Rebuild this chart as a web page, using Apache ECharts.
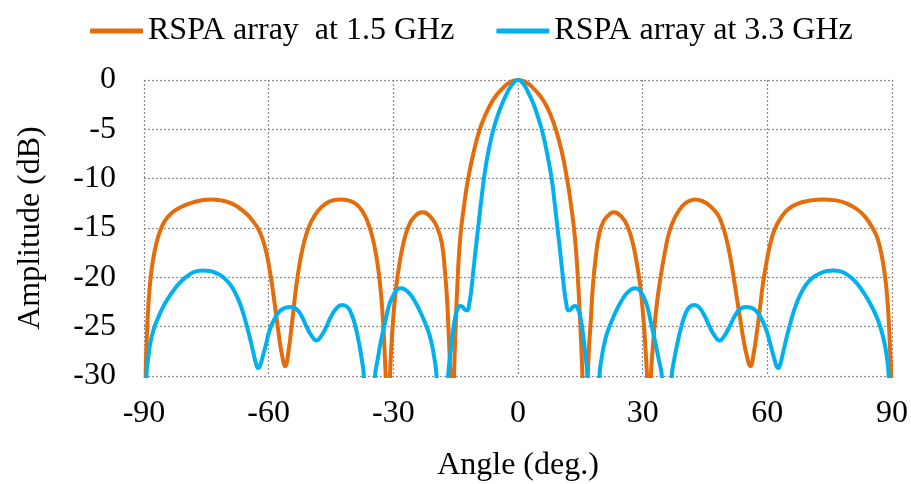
<!DOCTYPE html>
<html>
<head>
<meta charset="utf-8">
<script src="https://cdn.jsdelivr.net/npm/echarts@6/dist/echarts.min.js"></script>
<style>
  html, body { margin: 0; padding: 0; background: #fff; }
  #chart { width: 911px; height: 484px; }
</style>
</head>
<body>
<div id="chart"></div>
<script>
// Radiation pattern of the RSPA array, amplitude (dB) versus angle (deg.)
// Values below -30 dB mark the pattern nulls; the plot clips them at the axis floor.

// 1.5 GHz pattern (one line per lobe)
const angle15 = [
  -90, -89.6, -89.3, -88.9, -88.4, -87.8, -87.1, -86.2, -85.0, -83.4, -81.2, -78.6, -76.2, -73.8,
  -71.5, -69.0, -67.0, -65.2, -63.8, -62.5, -61.4, -60.5, -59.7, -59.0, -58.3, -57.6, -56.9, -56.0,
  -55.2, -54.6, -54.0, -53.4, -52.7, -51.9, -50.9, -49.7, -48.2, -46.5, -44.6, -42.7,
  -40.8, -38.9, -37.3, -36.0, -35.0, -34.2, -33.5, -32.9, -32.4, -32.0, -31.8, -31.4,
  -30.8, -30.4, -30.0, -29.4, -28.6, -27.6, -26.4, -25.0, -23.0, -21.0, -19.4, -18.3, -17.6, -17.1, -16.8, -16.5, -16.3, -15.9,
  -15.4, -15.0, -14.5, -13.9, -13.0, -12.0, -10.6, -9.2, -7.8, -6.4, -5.0, -3.6, -2.0, 0,
  2.0, 3.6, 5.0, 6.5, 7.8, 9.1, 10.5, 11.8, 12.8, 13.7, 14.4, 15.0, 15.5, 16.1,
  16.8, 17.1, 17.5, 18.0, 18.7, 19.6, 20.6, 21.8, 23.0, 25.0, 26.4, 27.6, 28.6, 29.4, 30.0, 30.5, 30.9, 31.1, 31.5,
  32.0, 32.4, 32.9, 33.5, 34.3, 35.2, 36.4, 37.8, 39.5, 41.0, 42.6, 44.5, 46.3, 48.0, 49.1, 50.2, 51.1, 51.9, 52.7, 53.5, 54.3, 55.1, 55.9,
  56.8, 57.5, 58.2, 58.9, 59.7, 60.6, 61.7, 63.2, 65.0, 67.2, 69.8, 73.4, 76.5, 79.3, 81.6, 83.4, 84.9, 86.2, 87.0, 87.7, 88.3, 88.8, 89.2, 89.55, 89.8, 90
];
const gain15 = [
  -45, -30, -26, -22.5, -20, -18.2, -16.7, -15.4, -14.3, -13.5, -12.9, -12.45, -12.2, -12.1,
  -12.2, -12.5, -13.0, -13.6, -14.3, -15.1, -16.2, -17.6, -19.4, -21.3, -23.5, -25.7, -27.6, -29.0,
  -27.4, -25.4, -23.2, -21.0, -19.0, -17.2, -15.6, -14.3, -13.3, -12.6, -12.2, -12.1,
  -12.2, -12.6, -13.4, -14.6, -16.0, -17.6, -19.6, -22.0, -25.0, -28.5, -30.5, -40,
  -30, -26.5, -24, -21.3, -18.8, -16.6, -14.9, -13.9, -13.4, -13.9, -15.0, -16.6, -19.3, -22, -24.6, -27.5, -30, -40,
  -30, -25, -20, -16, -12.8, -10, -7.2, -5, -3.5, -2.3, -1.45, -0.8, -0.25, 0,
  -0.25, -0.8, -1.45, -2.35, -3.5, -5, -7.2, -10, -12.8, -16, -20, -25, -30, -40,
  -30, -27, -24.5, -21, -18, -15.5, -14.3, -13.7, -13.4, -13.9, -14.9, -16.5, -18.6, -20.8, -23.3, -26, -28.8, -30.5, -40,
  -30, -27.3, -24.8, -22.4, -20, -17.8, -15.4, -13.9, -12.8, -12.3, -12.1, -12.3, -12.8, -13.6, -14.6, -16.2, -18.0, -20.0, -22.2, -24.3, -26.4, -28.0, -29.0,
  -27.5, -25.5, -23.2, -20.8, -18.7, -16.8, -15.2, -14.0, -13.1, -12.55, -12.25, -12.1, -12.2, -12.55, -13.1, -13.8, -14.7, -15.7, -16.8, -18.2, -19.8, -21.8, -24.2, -27.5, -30, -45
];

// 3.3 GHz pattern (one line per lobe)
const angle33 = [
  -90, -89.4, -89.0, -88.4, -87.6, -86.6, -85.4, -84.0, -82.5, -80.9, -79.2, -77.5, -75.8, -74.2, -72.5, -70.9, -69.3, -67.9, -66.7, -65.6, -64.6, -63.7, -63.0, -62.5,
  -62.1, -61.6, -60.7, -59.8, -58.7, -57.5, -56.1, -54.7, -53.4, -52.1, -50.9, -49.7, -48.5, -47.3, -46.1, -44.9, -43.6, -42.4, -41.2, -40.1, -39.1, -38.3, -37.6, -37.1, -35.8,
  -34.4, -33.8, -33.0, -32.0, -31.0, -30.1, -29.2, -28.3, -27.3, -26.0, -24.6, -23.3, -22.0, -21.0, -20.2, -19.6, -18.1,
  -16.8, -16.3, -15.7, -15.1, -14.5, -13.9, -13.3, -12.7, -12.2, -11.7, -11.3, -10.9, -10.3, -9.6, -8.9, -8.2, -7.5, -6.7, -5.9, -4.9, -3.8, -2.6, -1.3, 0,
  1.3, 2.5, 3.7, 4.7, 5.7, 6.5, 7.3, 8.1, 8.8, 9.5, 10.2, 10.8, 11.2, 11.6, 12.1, 12.6, 13.2, 13.8, 14.4, 15.0, 15.6, 16.2, 16.7, 18.1,
  19.6, 20.2, 21.0, 22.0, 23.3, 24.6, 26.0, 27.3, 28.3, 29.2, 30.1, 31.0, 32.0, 33.0, 33.9, 34.6, 35.8,
  37.0, 37.6, 38.4, 39.3, 40.3, 41.4, 42.5, 43.7, 44.9, 46.1, 47.3, 48.5, 49.7, 50.9, 52.2, 53.5, 54.9, 56.2, 57.5, 58.7, 59.8, 60.8, 61.7, 62.2, 62.6,
  63.1, 63.8, 64.7, 65.7, 66.8, 68.0, 69.4, 71.0, 72.7, 74.4, 75.9, 77.6, 79.3, 81.0, 82.6, 84.0, 85.3, 86.4, 87.3, 88.1, 88.7, 89.2, 90
];
const gain33 = [
  -45, -30, -28.2, -26.5, -25.2, -24.1, -23.0, -22.0, -21.1, -20.35, -19.75, -19.4, -19.3, -19.35, -19.6, -20.0, -20.7, -21.7, -22.9, -24.4, -26.0, -27.6, -28.8, -29.2,
  -29.0, -28.3, -26.9, -25.4, -24.3, -23.5, -23.1, -23.0, -23.2, -23.9, -25.0, -25.9, -26.4, -25.9, -25.0, -23.9, -23.1, -22.8, -22.95, -23.7, -25.0, -26.6, -28.3, -30, -45,
  -30, -28.4, -26.5, -24.6, -22.8, -21.9, -21.3, -21.1, -21.2, -21.7, -22.6, -23.7, -25.0, -26.3, -28.0, -30, -45,
  -30, -27.8, -25.6, -24.0, -23.2, -22.9, -23.0, -23.3, -23.35, -22.6, -21.5, -20.0, -17.6, -15, -12.4, -10, -8.1, -6.4, -5.0, -3.6, -2.4, -1.3, -0.4, 0,
  -0.4, -1.3, -2.4, -3.6, -5.0, -6.4, -8.1, -10, -12.4, -15, -17.6, -20, -21.5, -22.6, -23.35, -23.3, -23.0, -22.9, -23.2, -24.0, -25.6, -27.8, -30, -45,
  -30, -28.0, -26.3, -25.0, -23.7, -22.6, -21.7, -21.2, -21.1, -21.3, -21.9, -22.8, -24.6, -26.5, -28.4, -30, -45,
  -30, -28.3, -26.6, -25.0, -23.7, -22.95, -22.8, -23.1, -23.9, -25.0, -25.9, -26.4, -25.9, -25.0, -23.9, -23.2, -23.0, -23.1, -23.5, -24.3, -25.4, -26.9, -28.3, -29.0, -29.2,
  -28.8, -27.6, -26.0, -24.4, -22.9, -21.7, -20.7, -20.0, -19.6, -19.35, -19.3, -19.4, -19.75, -20.35, -21.2, -22.1, -23.1, -24.1, -25.2, -26.5, -27.9, -30, -45
];

const xTicks = [-90, -60, -30, 0, 30, 60, 90];
const yTicks = [0, -5, -10, -15, -20, -25, -30];
const seriesNames = ['RSPA array  at 1.5 GHz', 'RSPA array at 3.3 GHz'];

const pair = (xs, ys) => xs.map((x, i) => [x, ys[i]]);

const serif = 'Liberation Serif';
const gridDots = { color: '#8c8c8c', width: 1.2, type: [2, 2] };

const chart = echarts.init(document.getElementById('chart'), null, { renderer: 'canvas' });
chart.setOption({
  animation: false,
  backgroundColor: '#ffffff',
  legend: {
    top: 10,
    left: 85,
    itemWidth: 53,
    itemHeight: 5,
    itemGap: 42,
    icon: 'roundRect',
    textStyle: { fontFamily: serif, fontSize: 32, color: '#000' },
    data: seriesNames
  },
  grid: { left: 144, right: 19, top: 80, bottom: 108, outerBoundsMode: 'none' },
  xAxis: {
    type: 'value',
    min: xTicks[0],
    max: xTicks[xTicks.length - 1],
    interval: 30,
    name: 'Angle (deg.)',
    nameLocation: 'middle',
    nameGap: 74,
    nameTextStyle: { fontFamily: serif, fontSize: 32, color: '#000' },
    axisLine: { show: false },
    axisTick: { show: false },
    axisLabel: { fontFamily: serif, fontSize: 32, color: '#000', margin: 22,
                 formatter: v => xTicks.includes(v) ? String(v) : '' },
    splitLine: { show: true, showMinLine: true, showMaxLine: true, lineStyle: gridDots }
  },
  yAxis: {
    type: 'value',
    min: yTicks[yTicks.length - 1],
    max: yTicks[0],
    interval: 5,
    name: 'Amplitude (dB)',
    nameLocation: 'middle',
    nameGap: 97,
    nameRotate: 90,
    nameTextStyle: { fontFamily: serif, fontSize: 32, color: '#000' },
    axisLabel: { fontFamily: serif, fontSize: 32, color: '#000', margin: 28, padding: [8, 0, 0, 0],
                 formatter: v => yTicks.includes(v) ? String(v) : '' },
    axisLine: { show: false },
    axisTick: { show: false },
    splitLine: { show: true, showMinLine: true, showMaxLine: true, lineStyle: gridDots }
  },
  series: [
    {
      name: seriesNames[0],
      type: 'line',
      data: pair(angle15, gain15),
      showSymbol: false,
      symbol: 'none',
      smooth: 0.5,
      clip: true,
      itemStyle: { color: '#E46C0A' },
      lineStyle: { color: '#E46C0A', width: 4, cap: 'round', join: 'round' },
      z: 2
    },
    {
      name: seriesNames[1],
      type: 'line',
      data: pair(angle33, gain33),
      showSymbol: false,
      symbol: 'none',
      smooth: 0.5,
      clip: true,
      itemStyle: { color: '#00B0F0' },
      lineStyle: { color: '#00B0F0', width: 4, cap: 'round', join: 'round' },
      z: 3
    }
  ]
});
</script>
</body>
</html>
